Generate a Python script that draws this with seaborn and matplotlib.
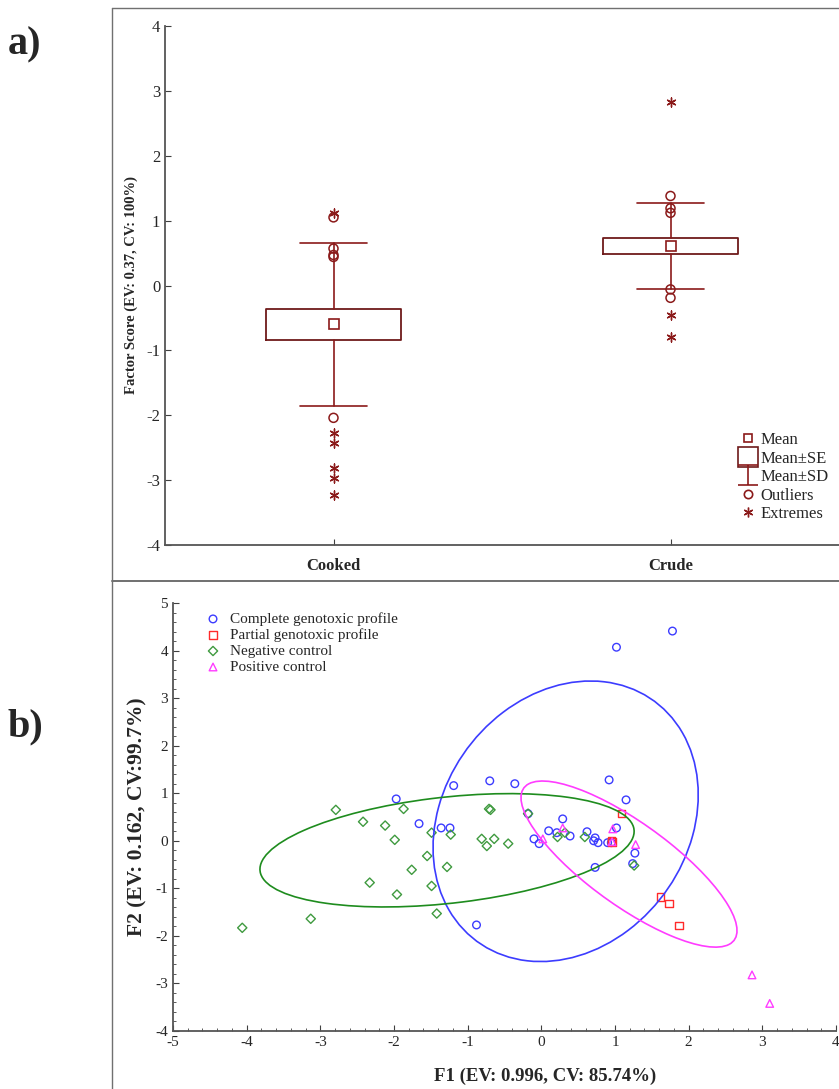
import numpy as np
import pandas as pd
import matplotlib
matplotlib.use("Agg")
import matplotlib.pyplot as plt
import seaborn as sns
from matplotlib.patches import Ellipse
from matplotlib.lines import Line2D
from matplotlib.path import Path
from matplotlib.ticker import MultipleLocator

# ---- panel a) factor scores by group ----
groups = ["Cooked", "Crude"]
means = [-0.60, 0.61]
se = [0.245, 0.125]
sd = [1.25, 0.66]
cooked_outliers = [1.05, 0.57, 0.47, 0.44, -2.04]
cooked_extremes = [1.11, -2.28, -2.43, -2.81, -2.96, -3.23]
crude_outliers = [1.38, 1.19, 1.12, -0.06, -0.19]
crude_extremes = [2.83, -0.45, -0.79]

# ---- panel b) F1 / F2 scores ----
complete_x = [1.02, 1.78, 0.92, 1.15, -0.70, -0.36, -1.19, -1.97, -1.66, -1.36, -1.24,
              -0.18, 0.29, 0.10, 0.21, 0.39, -0.10, -0.03, 0.62, 0.71, 0.73, 0.77, 0.90,
              0.95, 1.02, 1.27, 1.24, 0.73, -0.88]
complete_y = [4.07, 4.41, 1.28, 0.86, 1.26, 1.20, 1.16, 0.88, 0.36, 0.27, 0.27,
              0.57, 0.46, 0.21, 0.17, 0.10, 0.04, -0.06, 0.19, 0.00, 0.06, -0.04, -0.04,
              -0.04, 0.27, -0.26, -0.48, -0.56, -1.77]
partial_x = [1.09, 0.96, 0.95, 1.62, 1.73, 1.87]
partial_y = [0.57, -0.02, -0.01, -1.18, -1.32, -1.78]
negative_x = [-4.06, -3.13, -2.79, -2.42, -2.12, -1.99, -1.87, -2.33, -1.96, -1.76, -1.55,
              -1.49, -1.23, -1.28, -1.49, -1.42, -0.71, -0.69, -0.81, -0.74, -0.64, -0.45,
              -0.18, 0.22, 0.32, 0.59, 1.26]
negative_y = [-1.83, -1.64, 0.65, 0.40, 0.32, 0.02, 0.67, -0.88, -1.13, -0.61, -0.32,
              0.17, 0.13, -0.55, -0.95, -1.53, 0.67, 0.65, 0.04, -0.11, 0.04, -0.06,
              0.57, 0.08, 0.17, 0.08, -0.52]
positive_x = [2.86, 3.10, 1.28, 0.29, 0.02, 0.97, 0.96]
positive_y = [-2.82, -3.42, -0.08, 0.27, 0.04, 0.25, -0.02]

# confidence ellipses: centre and covariance (xx, yy, xy)
ell_centers = [(0.33, 0.41), (-1.28, -0.20), (1.19, -0.49)]
ell_cov = [(3.24, 8.70, 1.00), (6.45, 1.42, 1.01), (2.15, 3.05, -2.05)]
ell_colors = ["#3c3cff", "#1e8c1e", "#ff3cff"]

sns.set_style("ticks")
plt.rcParams["font.family"] = ["Liberation Serif", "DejaVu Serif"]
plt.rcParams["axes.unicode_minus"] = False

W, H = 839, 1089
fig = plt.figure(figsize=(W / 100, H / 100), dpi=100)

# frames around the two panels
frame_c = "#707070"
fig.add_artist(Line2D([112 / W, 1], [1 - 8 / H] * 2, color=frame_c, lw=1))
fig.add_artist(Line2D([112 / W, 1], [1 - 581 / H] * 2, color=frame_c, lw=1.4))
fig.add_artist(Line2D([112 / W] * 2, [0, 1 - 8 / H], color=frame_c, lw=1))

fig.text(8 / W, 1 - 45 / H, "a)", fontsize=29, fontweight="bold", va="center")
fig.text(8 / W, 1 - 727 / H, "b)", fontsize=29, fontweight="bold", va="center")

# ---------------- panel a ----------------
red = "#8b1a1a"
ax1 = fig.add_axes([165 / W, 1 - 545 / H, 674 / W, 519 / H])
stats = []
for i, g in enumerate(groups):
    stats.append(dict(med=means[i], q1=means[i] - se[i], q3=means[i] + se[i],
                      whislo=means[i] - sd[i], whishi=means[i] + sd[i],
                      mean=means[i], fliers=[], label=g))
ax1.bxp(stats, positions=range(len(groups)), widths=0.4, capwidths=0.2,
        showmeans=True, showfliers=False, patch_artist=False,
        boxprops=dict(color="#6e1a1a", lw=1.3),
        whiskerprops=dict(color=red, lw=1.2),
        capprops=dict(color=red, lw=1.2),
        medianprops=dict(lw=0),
        meanprops=dict(marker="s", markerfacecolor="none", markeredgecolor=red,
                       markersize=7, markeredgewidth=1.2))

out_df = pd.DataFrame({
    "pos": [0] * len(cooked_outliers) + [1] * len(crude_outliers),
    "val": cooked_outliers + crude_outliers})
ext_df = pd.DataFrame({
    "pos": [0] * len(cooked_extremes) + [1] * len(crude_extremes),
    "val": cooked_extremes + crude_extremes})
sns.scatterplot(data=out_df, x="pos", y="val", ax=ax1, marker="o", s=42,
                facecolor="none", edgecolor=red, color=red, linewidth=1.1)
sns.scatterplot(data=ext_df, x="pos", y="val", ax=ax1, marker=(6, 2, 0), s=42,
                color=red, linewidth=1.0)

ax1.set_xlim(-0.5, 1.5)
ax1.set_ylim(-4, 4)
ax1.set_xticks(range(len(groups)))
ax1.set_xticklabels(groups, fontsize=13, fontweight="bold")
ax1.set_yticks(range(-4, 5))
ax1.tick_params(direction="in", labelsize=12, length=4, color="#404040")
ax1.tick_params(axis="x", pad=9)
ax1.set_xlabel("")
ax1.set_ylabel("Factor Score (EV: 0.37, CV: 100%)", fontsize=10.5, fontweight="bold",
               labelpad=6)
sns.despine(ax=ax1)
for sp in ["left", "bottom"]:
    ax1.spines[sp].set_color("#555555")
    ax1.spines[sp].set_linewidth(1.3)

i_marker = Path([(-0.5, 0.5), (0.5, 0.5), (0, 0.5), (0, -0.5), (-0.5, -0.5), (0.5, -0.5)],
                [Path.MOVETO, Path.LINETO, Path.MOVETO, Path.LINETO, Path.MOVETO, Path.LINETO])
handles_a = [
    Line2D([], [], ls="none", marker="s", ms=6, mfc="none", mec=red, mew=1.2),
    Line2D([], [], ls="none", marker="s", ms=14, mfc="none", mec="#6e1a1a", mew=1.2),
    Line2D([], [], ls="none", marker=i_marker, ms=14, mec=red, mew=1.2),
    Line2D([], [], ls="none", marker="o", ms=6, mfc="none", mec=red, mew=1.2),
    Line2D([], [], ls="none", marker=(6, 2, 0), ms=7, mec=red, mew=1.0),
]
ax1.legend(handles_a, ["Mean", "Mean±SE", "Mean±SD", "Outliers", "Extremes"],
           loc="lower right", bbox_to_anchor=(1.0, 0.025), frameon=False, fontsize=12,
           handlelength=1.0, handletextpad=0.3, labelspacing=0.15, borderaxespad=0.2)

# ---------------- panel b ----------------
ax2 = fig.add_axes([173 / W, 1 - 1031 / H, 663 / W, 428 / H])
series = [
    ("Complete genotoxic profile", complete_x, complete_y, "o", "#3c3cff"),
    ("Partial genotoxic profile", partial_x, partial_y, "s", "#ff2a2a"),
    ("Negative control", negative_x, negative_y, "D", "#3f9a3f"),
    ("Positive control", positive_x, positive_y, "^", "#ff3cff"),
]
for label, xs, ys, mk, col in series:
    size = 30 if mk != "D" else 22
    sns.scatterplot(x=xs, y=ys, ax=ax2, marker=mk, s=size, facecolor="none",
                    edgecolor=col, color=col, linewidth=1.0, label=label)

for (cx, cy), (sxx, syy, sxy), col in zip(ell_centers, ell_cov, ell_colors):
    cov = np.array([[sxx, sxy], [sxy, syy]])
    vals, vecs = np.linalg.eigh(cov)
    angle = np.degrees(np.arctan2(vecs[1, 1], vecs[0, 1]))
    ax2.add_patch(Ellipse((cx, cy), 2 * np.sqrt(vals[1]), 2 * np.sqrt(vals[0]),
                          angle=angle, fill=False, edgecolor=col, lw=1.2))

ax2.set_xlim(-5, 4)
ax2.set_ylim(-4, 5)
ax2.xaxis.set_major_locator(MultipleLocator(1))
ax2.yaxis.set_major_locator(MultipleLocator(1))
ax2.xaxis.set_minor_locator(MultipleLocator(0.2))
ax2.yaxis.set_minor_locator(MultipleLocator(0.2))
ax2.tick_params(which="both", direction="in", color="#404040", labelsize=11)
ax2.tick_params(which="major", length=4)
ax2.tick_params(which="minor", length=2)
ax2.set_xlabel("F1 (EV: 0.996, CV: 85.74%)", fontsize=13.5, fontweight="bold")
ax2.xaxis.set_label_coords(0.561, -0.085)
ax2.set_ylabel("F2 (EV: 0.162, CV:99.7%)", fontsize=15.5, fontweight="bold", labelpad=6)
sns.despine(ax=ax2)
for sp in ["left", "bottom"]:
    ax2.spines[sp].set_color("#555555")
    ax2.spines[sp].set_linewidth(1.3)
ax2.legend(loc="upper left", bbox_to_anchor=(0.035, 1.0), frameon=False, fontsize=11,
           handlelength=1.0, handletextpad=0.6, labelspacing=0.15, borderaxespad=0.2)

fig.savefig("out.png", dpi=100)
